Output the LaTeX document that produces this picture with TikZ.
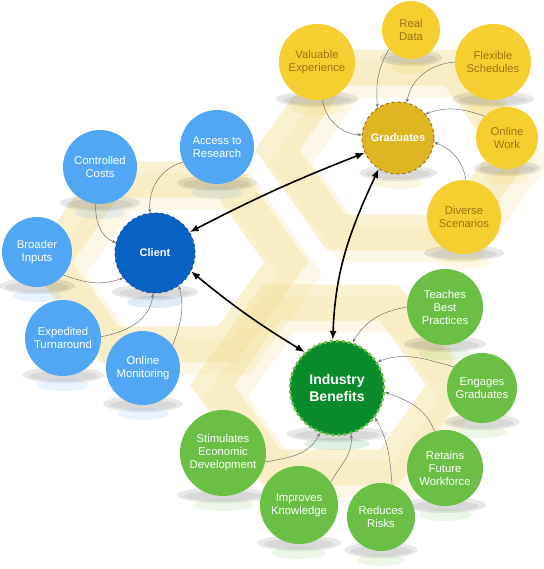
\documentclass[tikz,border=0pt]{standalone}
\usepackage{fontspec}
\setmainfont{Liberation Sans}
\usetikzlibrary{arrows.meta}
\definecolor{satblue}{HTML}{52A7F4}
\definecolor{clientblue}{HTML}{0762C4}
\definecolor{clientedge}{HTML}{1F4F8C}
\definecolor{satyellow}{HTML}{F4CF2F}
\definecolor{gradyellow}{HTML}{DDB622}
\definecolor{gradedge}{HTML}{9C6F1E}
\definecolor{goldtext}{HTML}{9A7512}
\definecolor{satgreen}{HTML}{6ABF44}
\definecolor{indgreen}{HTML}{0A8B2B}
\definecolor{hexyellow}{HTML}{F3E09A}
\tikzset{
  sat/.style={circle, inner sep=0pt, align=center, minimum size=#1,
    font=\fontsize{11.3}{13}\selectfont},
  bluesat/.style={sat=#1, fill=satblue, text=white},
  yellowsat/.style={sat=#1, fill=satyellow, text=goldtext},
  greensat/.style={sat=#1, fill=satgreen, text=white},
  hub/.style={circle, inner sep=0pt, align=center, minimum size=#1,
    text=white, font=\bfseries\fontsize{11}{13}\selectfont},
  feed/.style={draw=black!55, line width=0.5pt, -{Stealth[length=4pt,width=3pt]}},
  link/.style={line width=1.6pt, {Latex[length=9pt,width=7pt]}-{Latex[length=9pt,width=7pt]}},
  hexband/.style={draw=hexyellow, line width=36pt, opacity=.45, line join=miter},
}
\begin{document}
\begin{tikzpicture}[x=1pt,y=1pt]
\useasboundingbox (0,0) rectangle (543,569);
% honeycomb bands behind everything
\foreach \cx/\cy in {168/307, 395/419, 330/184} {
  \draw[hexband] (\cx,\cy) +(0:118 and 95) -- +(60:118 and 95) -- +(120:118 and 95)
    -- +(180:118 and 95) -- +(240:118 and 95) -- +(300:118 and 95) -- cycle;
  \draw[hexband, opacity=.25] (\cx+14,\cy-12) +(0:118 and 95) -- +(60:118 and 95) -- +(120:118 and 95)
    -- +(180:118 and 95) -- +(240:118 and 95) -- +(300:118 and 95) -- cycle;
}
% shadows and reflections under the circles
\foreach \x/\y/\r/\c in {155/316/40/clientblue, 398/431/36/gradyellow, 337/181/47/indgreen,
    217/422/37/satblue, 100/402/37/satblue, 37/317/35/satblue, 63/231/38/satblue, 143/201/37/satblue,
    411/539/29/satyellow, 317/507/38/satyellow, 493/507/38/satyellow, 507/431/31/satyellow, 464/352/37/satyellow,
    445/262/38/satgreen, 482/181/35/satgreen, 445/101/38/satgreen, 381/52/34/satgreen,
    299/64/39/satgreen, 223/116/43/satgreen} {
  \fill[black, opacity=.09] (\x,\y-\r+1) ellipse ({1.08*\r} and 8);
  \fill[black, opacity=.07] (\x,\y-\r) ellipse ({0.9*\r} and 5);
  \fill[\c, opacity=.13] (\x,\y-\r-9) ellipse ({0.7*\r} and 6);
}

% hubs
\node[hub=80, fill=clientblue, draw=clientedge, dashed, line width=1pt] (client) at (155,316) {Client};
\node[hub=72, fill=gradyellow, draw=gradedge, dashed, line width=1pt] (grad) at (398,431) {Graduates};
\node[hub=94, fill=indgreen, draw=satgreen, dashed, line width=2.5pt,
  font=\bfseries\fontsize{14}{17.5}\selectfont] (ind) at (337,181) {Industry\\Benefits};

% client side
\node[bluesat=74] (access) at (217,422) {Access to\\Research};
\node[bluesat=74] (costs) at (100,402) {Controlled\\Costs};
\node[bluesat=70] (inputs) at (37,317) {Broader\\Inputs};
\node[bluesat=76] (turn) at (63,231) {Expedited\\Turnaround};
\node[bluesat=74] (monit) at (143,201) {Online\\Monitoring};

% graduates side
\node[yellowsat=58] (data) at (411,539) {Real\\Data};
\node[yellowsat=76] (exper) at (317,507) {Valuable\\Experience};
\node[yellowsat=76] (sched) at (493,507) {Flexible\\Schedules};
\node[yellowsat=62] (owork) at (507,431) {Online\\Work};
\node[yellowsat=74] (scen) at (464,352) {Diverse\\Scenarios};

% industry side
\node[greensat=76] (teach) at (445,262) {Teaches\\Best\\Practices};
\node[greensat=70] (engage) at (482,181) {Engages\\Graduates};
\node[greensat=76] (retain) at (445,101) {Retains\\Future\\Workforce};
\node[greensat=68] (risk) at (381,52) {Reduces\\Risks};
\node[greensat=78] (know) at (299,64) {Improves\\Knowledge};
\node[greensat=86] (econ) at (223,116) {Stimulates\\Economic\\Development};

% feeders
\draw[feed] (access.204) to[out=195, in=95] (client.97);
\draw[feed] (costs.263) to[out=-90, in=160] (client.165);
\draw[feed] (inputs.319) to[out=-20, in=200] (client.218);
\draw[feed] (turn.2) to[out=10, in=-95] (client.267);
\draw[feed] (monit.37) to[out=70, in=-75] (client.306);

\draw[feed] (exper.278) to[out=-80, in=178] (grad.175);
\draw[feed] (data.221) to[out=240, in=95] (grad.124);
\draw[feed] (sched.180) to[out=185, in=80] (grad.76);
\draw[feed] (owork.136) to[out=160, in=20] (grad.41);
\draw[feed] (scen.87) to[out=100, in=-20] (grad.-7);

\draw[feed] (teach.180) to[out=190, in=60] (ind.71);
\draw[feed] (engage.143) to[out=165, in=20] (ind.33);
\draw[feed] (retain.106) to[out=110, in=-20] (ind.-5);
\draw[feed] (risk.71) to[out=95, in=-60] (ind.-38);
\draw[feed] (know.36) to[out=60, in=-85] (ind.-73);
\draw[feed] (econ.-12) to[out=10, in=-115] (ind.-111);

% links between hubs
\draw[link] (client.31) to[bend left=3] (grad.204);
\draw[link] (client.-27) to[bend right=4] (ind.132);
\draw[link] (grad.238) to[out=245, in=88] (ind.95);
\end{tikzpicture}
\end{document}
